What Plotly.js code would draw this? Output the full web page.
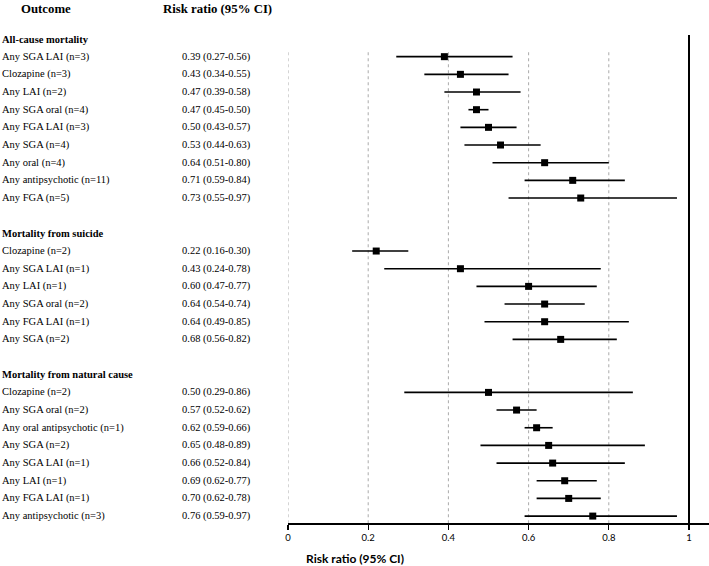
<!DOCTYPE html>
<html>
<head>
<meta charset="utf-8">
<script src="https://cdn.plot.ly/plotly-3.0.1.min.js"></script>
<style>html,body{margin:0;padding:0;background:#fff;}#chart{width:709px;height:566px;}</style>
</head>
<body>
<div id="chart"></div>
<script>
const groupTitles = ["All-cause mortality", "Mortality from suicide", "Mortality from natural cause"];

const allCauseLabels = ["Any SGA LAI (n=3)", "Clozapine (n=3)", "Any LAI (n=2)", "Any SGA oral (n=4)", "Any FGA LAI (n=3)", "Any SGA (n=4)", "Any oral (n=4)", "Any antipsychotic (n=11)", "Any FGA (n=5)"];
const allCauseRR = [0.39, 0.43, 0.47, 0.47, 0.50, 0.53, 0.64, 0.71, 0.73];
const allCauseLo = [0.27, 0.34, 0.39, 0.45, 0.43, 0.44, 0.51, 0.59, 0.55];
const allCauseHi = [0.56, 0.55, 0.58, 0.50, 0.57, 0.63, 0.80, 0.84, 0.97];

const suicideLabels = ["Clozapine (n=2)", "Any SGA LAI (n=1)", "Any LAI (n=1)", "Any SGA oral (n=2)", "Any FGA LAI (n=1)", "Any SGA (n=2)"];
const suicideRR = [0.22, 0.43, 0.60, 0.64, 0.64, 0.68];
const suicideLo = [0.16, 0.24, 0.47, 0.54, 0.49, 0.56];
const suicideHi = [0.30, 0.78, 0.77, 0.74, 0.85, 0.82];

const naturalLabels = ["Clozapine (n=2)", "Any SGA oral (n=2)", "Any oral antipsychotic (n=1)", "Any SGA (n=2)", "Any SGA LAI (n=1)", "Any LAI (n=1)", "Any FGA LAI (n=1)", "Any antipsychotic (n=3)"];
const naturalRR = [0.50, 0.57, 0.62, 0.65, 0.66, 0.69, 0.70, 0.76];
const naturalLo = [0.29, 0.52, 0.59, 0.48, 0.52, 0.62, 0.62, 0.59];
const naturalHi = [0.86, 0.62, 0.66, 0.89, 0.84, 0.77, 0.78, 0.97];

const tickVals = [0, 0.2, 0.4, 0.6, 0.8, 1];
const tickText = ["0", "0.2", "0.4", "0.6", "0.8", "1"];
const gridVals = [0, 0.2, 0.4, 0.6, 0.8];

const groups = [
  {labels: allCauseLabels, rr: allCauseRR, lo: allCauseLo, hi: allCauseHi},
  {labels: suicideLabels, rr: suicideRR, lo: suicideLo, hi: suicideHi},
  {labels: naturalLabels, rr: naturalRR, lo: naturalLo, hi: naturalHi}
];

const serif = "Liberation Serif, Times New Roman, serif";
const sans = "Lato, Open Sans, sans-serif";

// plot area geometry
const W = 709, H = 566;
const ML = 288, MR = 0, MT = 35, MB = 43;
const plotW = W - ML - MR, plotH = H - MT - MB;
function paperX(px) { return (px - ML) / plotW; }
function paperY(py) { return (H - MB - py) / plotH; }

const xs = [], ys = [], ePlus = [], eMinus = [];
const annotations = [];
const txtFont = {family: serif, size: 10.5, color: "#000"};
let row = 0;
groups.forEach((g, gi) => {
  annotations.push({x: paperX(0), xref: "paper", y: row, yref: "y", text: "<b>" + groupTitles[gi] + "</b>",
    showarrow: false, xanchor: "left", yanchor: "middle", font: txtFont});
  row += 1;
  g.labels.forEach((lab, i) => {
    xs.push(g.rr[i]); ys.push(row);
    ePlus.push(g.hi[i] - g.rr[i]); eMinus.push(g.rr[i] - g.lo[i]);
    annotations.push({x: paperX(0), xref: "paper", y: row, yref: "y", text: lab,
      showarrow: false, xanchor: "left", yanchor: "middle", font: txtFont});
    const txt = g.rr[i].toFixed(2) + " (" + g.lo[i].toFixed(2) + "-" + g.hi[i].toFixed(2) + ")";
    annotations.push({x: paperX(180), xref: "paper", y: row, yref: "y", text: txt,
      showarrow: false, xanchor: "left", yanchor: "middle", font: txtFont});
    row += 1;
  });
  row += 1;
});
const lastRow = row - 2;

// column headers
annotations.push({x: paperX(19), xref: "paper", y: paperY(9), yref: "paper", text: "<b>Outcome</b>",
  showarrow: false, xanchor: "left", yanchor: "middle", font: {family: serif, size: 12.8, color: "#000"}});
annotations.push({x: paperX(161), xref: "paper", y: paperY(9), yref: "paper", text: "<b>Risk ratio (95% CI)</b>",
  showarrow: false, xanchor: "left", yanchor: "middle", font: {family: serif, size: 12.8, color: "#000"}});
// x-axis title
annotations.push({x: paperX(355), xref: "paper", y: paperY(558), yref: "paper", text: "<b>Risk ratio (95% CI)</b>",
  showarrow: false, xanchor: "center", yanchor: "middle", font: {family: sans, size: 12, color: "#000"}});

const shapes = gridVals.map(v => ({type: "line", xref: "x", yref: "y", x0: v, x1: v, y0: 0.75, y1: lastRow + 0.4,
  line: {color: "#aaaaaa", width: 1, dash: "dot"}, layer: "below"}));
shapes.push({type: "line", xref: "x", yref: "paper", x0: 1, x1: 1, y0: 0, y1: 1, line: {color: "#000", width: 2}});

const trace = {
  type: "scatter", mode: "markers", x: xs, y: ys,
  marker: {symbol: "square", size: 7, color: "#000"},
  error_x: {type: "data", symmetric: false, array: ePlus, arrayminus: eMinus, color: "#000", thickness: 1.6, width: 0},
  hoverinfo: "x", showlegend: false, cliponaxis: false
};

const rowPx = 17.67;
const yTop = -(39 - MT) / rowPx;
const yBot = (523 - 39) / rowPx;

const layout = {
  width: W, height: H,
  margin: {l: ML, r: MR, t: MT, b: MB},
  paper_bgcolor: "#fff", plot_bgcolor: "#fff",
  showlegend: false,
  xaxis: {range: [0, (W - ML) / 401], showgrid: false, zeroline: false, showline: true, linecolor: "#000", linewidth: 1.5,
    ticks: "outside", ticklen: 5, tickwidth: 1.2, tickcolor: "#000", tickvals: tickVals, ticktext: tickText,
    tickfont: {family: sans, size: 9.5, color: "#000"}, fixedrange: true},
  yaxis: {range: [yBot, yTop], showgrid: false, zeroline: false, showline: false, showticklabels: false, ticks: "", fixedrange: true},
  annotations: annotations,
  shapes: shapes
};

Plotly.newPlot("chart", [trace], layout, {displayModeBar: false, staticPlot: true});
</script>
</body>
</html>
